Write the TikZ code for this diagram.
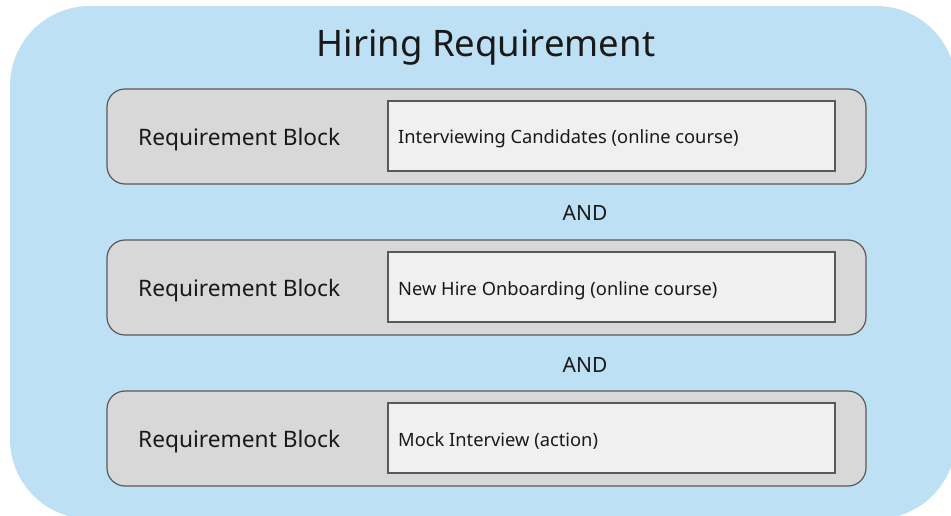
\documentclass[tikz,border=0pt]{standalone}
\usepackage{fontspec}
\setmainfont{Noto Sans}
\definecolor{outerblue}{HTML}{BDE0F4}
\definecolor{blockgray}{HTML}{D8D8D8}
\definecolor{boxgray}{HTML}{F0F0F0}
\definecolor{edgegray}{HTML}{595959}
\begin{document}
\begin{tikzpicture}[x=1pt,y=-1pt,
  outerbox/.style={fill=outerblue,draw=none,rounded corners=80pt},
  reqblock/.style={fill=blockgray,draw=edgegray,line width=1.2pt,rounded corners=18pt},
  itembox/.style={fill=boxgray,draw=edgegray,line width=1.2pt},
  blocklabel/.style={anchor=base west,font=\fontsize{22.7}{27}\selectfont,text=black!90,inner sep=0pt},
  itemlabel/.style={anchor=base west,font=\fontsize{18.3}{22}\selectfont,text=black!90,inner sep=0pt},
  andlabel/.style={anchor=base,font=\fontsize{21}{25}\selectfont,text=black!90,inner sep=0pt}]
\useasboundingbox (0,0) rectangle (951,516);
\fill[white] (0,0) rectangle (951,516);
\path[outerbox] (10,6) rectangle (956,519);
\node[anchor=base,font=\fontsize{36.5}{42}\selectfont,text=black!90,inner sep=0pt] (title) at (486,57) {Hiring Requirement};

\foreach \i/\t/\txt in {1/89/Interviewing Candidates (online course),2/240/New Hire Onboarding (online course),3/391/Mock Interview (action)}{
  \path[reqblock] (107,\t) rectangle (866,\t+95);
  \path[itembox] (388,\t+12) rectangle (835,\t+82);
  \node[blocklabel] (rb\i) at (138,\t+56.5) {Requirement Block};
  \node[itemlabel] (it\i) at (398,\t+55) {\txt};
}
\node[andlabel] (and1) at (585,221) {AND};
\node[andlabel] (and2) at (585,372) {AND};
\end{tikzpicture}
\end{document}
